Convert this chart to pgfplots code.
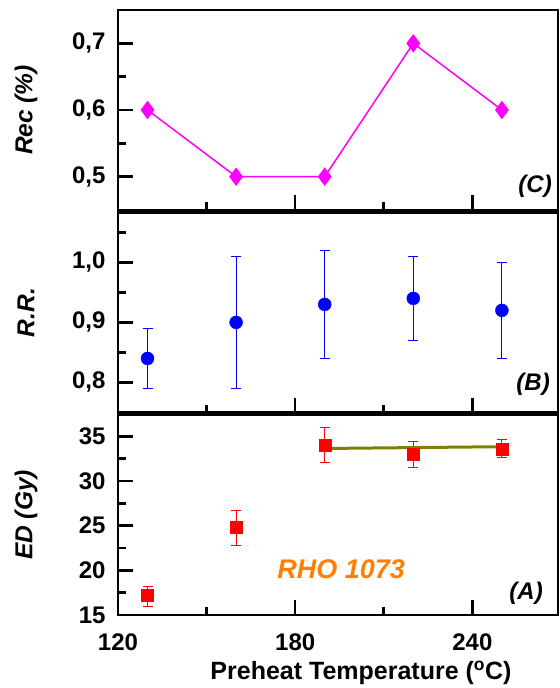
\documentclass[border=0pt]{standalone}
\usepackage{pgfplots}
\pgfplotsset{compat=1.18}
\usepgfplotslibrary{groupplots}
\usepackage{fontspec}
\setmainfont{Liberation Sans}
\definecolor{mag}{RGB}{255,0,255}
\definecolor{orng}{RGB}{255,128,0}
\definecolor{oliv}{RGB}{128,128,0}
\tikzset{thickframe/.style={line width=2.6bp, line cap=rect, black}}
\begin{document}
\begin{tikzpicture}
\begin{groupplot}[
  group style={group size=1 by 3, vertical sep=2.5bp},
  width=440bp, height=200bp, scale only axis,
  xmin=120, xmax=269,
  xtick={120,180,240}, minor xtick={150,210},
  xtick pos=left, ytick pos=left,
  tick align=inside,
  major tick length=15bp, minor tick length=8bp,
  every tick/.style={line width=2.6bp, black},
  axis line style={line width=1.5bp},
  tick label style={font=\fontsize{24bp}{28bp}\selectfont\bfseries},
  /pgf/number format/assume math mode=true,
  yticklabel style={xshift=-9bp},
  xticklabel style={yshift=-15bp},
  every axis y label/.style={at={(axis description cs:0,0.5)}, xshift=-92bp, rotate=90, anchor=center, font=\fontsize{24.5bp}{28bp}\selectfont\bfseries\itshape},
  xlabel style={font=\fontsize{25bp}{29bp}\selectfont\bfseries, yshift=-4bp, xshift=23bp},
  clip=false,
]
\nextgroupplot[ymin=0.45, ymax=0.75, ytick={0.5,0.6,0.7}, yticklabels={{0,5},{0,6},{0,7}}, minor ytick={0.55,0.65}, xticklabels=\empty, ylabel={Rec (\%)}]
\coordinate (tl) at (rel axis cs:0,1);
\draw[thickframe] (rel axis cs:1,1) -- (rel axis cs:0,1) -- (rel axis cs:0,0) -- (rel axis cs:1,0);
\addplot[mag, line width=1.5bp, mark=diamond*, mark size=8bp, mark options={solid, fill=mag}] coordinates {(130,0.6) (160,0.5) (190,0.5) (220,0.7) (250,0.6)};
\node[anchor=south east, font=\fontsize{24bp}{28bp}\selectfont\bfseries\itshape, inner sep=0pt] at ($(rel axis cs:1,0)+(-6bp,12bp)$) {(C)};

\nextgroupplot[ymin=0.75, ymax=1.083, ytick={0.8,0.9,1.0}, yticklabels={{0,8},{0,9},{1,0}}, minor ytick={0.85,0.95,1.05}, xticklabels=\empty, ylabel={R.R.}]
\draw[thickframe] (rel axis cs:1,1) -- (rel axis cs:0,1) -- (rel axis cs:0,0) -- (rel axis cs:1,0);
\addplot[only marks, blue, mark=*, mark size=6.5bp, mark options={fill=blue},
  error bars/.cd, y dir=both, y explicit,
  error bar style={line width=1bp, blue},
  error mark options={rotate=90, mark size=5bp, line width=1bp, blue}]
  coordinates {
  (130,0.84) += (0,0.05) -= (0,0.05)
  (160,0.90) += (0,0.11) -= (0,0.11)
  (190,0.93) += (0,0.09) -= (0,0.09)
  (220,0.94) += (0,0.07) -= (0,0.07)
  (250,0.92) += (0,0.08) -= (0,0.08)
  };
\node[anchor=south east, font=\fontsize{24bp}{28bp}\selectfont\bfseries\itshape, inner sep=0pt] at ($(rel axis cs:1,0)+(-8bp,17bp)$) {(B)};

\nextgroupplot[ymin=15, ymax=37.4, ytick={15,20,25,30,35}, yticklabels={15,20,25,30,35}, minor ytick={17.5,22.5,27.5,32.5}, xticklabels={120,180,240}, ylabel={ED (Gy)}, xlabel={Preheat Temperature (\textsuperscript{o}C)}]
\draw[thickframe] (rel axis cs:1,1) -- (rel axis cs:0,1) -- (rel axis cs:0,0) -- (rel axis cs:1,0);
\addplot[only marks, red, mark=square*, mark size=6bp, mark options={fill=red},
  error bars/.cd, y dir=both, y explicit,
  error bar style={line width=1bp, red},
  error mark options={rotate=90, mark size=5bp, line width=1bp, red}]
  coordinates {
  (130,17.2) += (0,1.0) -= (0,1.3)
  (160,24.8) += (0,1.9) -= (0,2.0)
  (190,34.05) += (0,1.95) -= (0,1.95)
  (220,33.0) += (0,1.45) -= (0,1.5)
  (250,33.6) += (0,1.1) -= (0,1.0)
  };
\addplot[oliv, line width=3bp] coordinates {(190,33.65) (250,33.85)};
\node[font=\fontsize{27bp}{31bp}\selectfont\bfseries\itshape, text=orng, inner sep=0pt] at (axis cs:195.6,20.1) {RHO 1073};
\node[anchor=south east, font=\fontsize{24bp}{28bp}\selectfont\bfseries\itshape, inner sep=0pt] at ($(rel axis cs:1,0)+(-15bp,10bp)$) {(A)};
\end{groupplot}
\pgfresetboundingbox
\path (tl) ++(-118bp,10bp) rectangle ++(560bp,-688bp);
\end{tikzpicture}
\end{document}
